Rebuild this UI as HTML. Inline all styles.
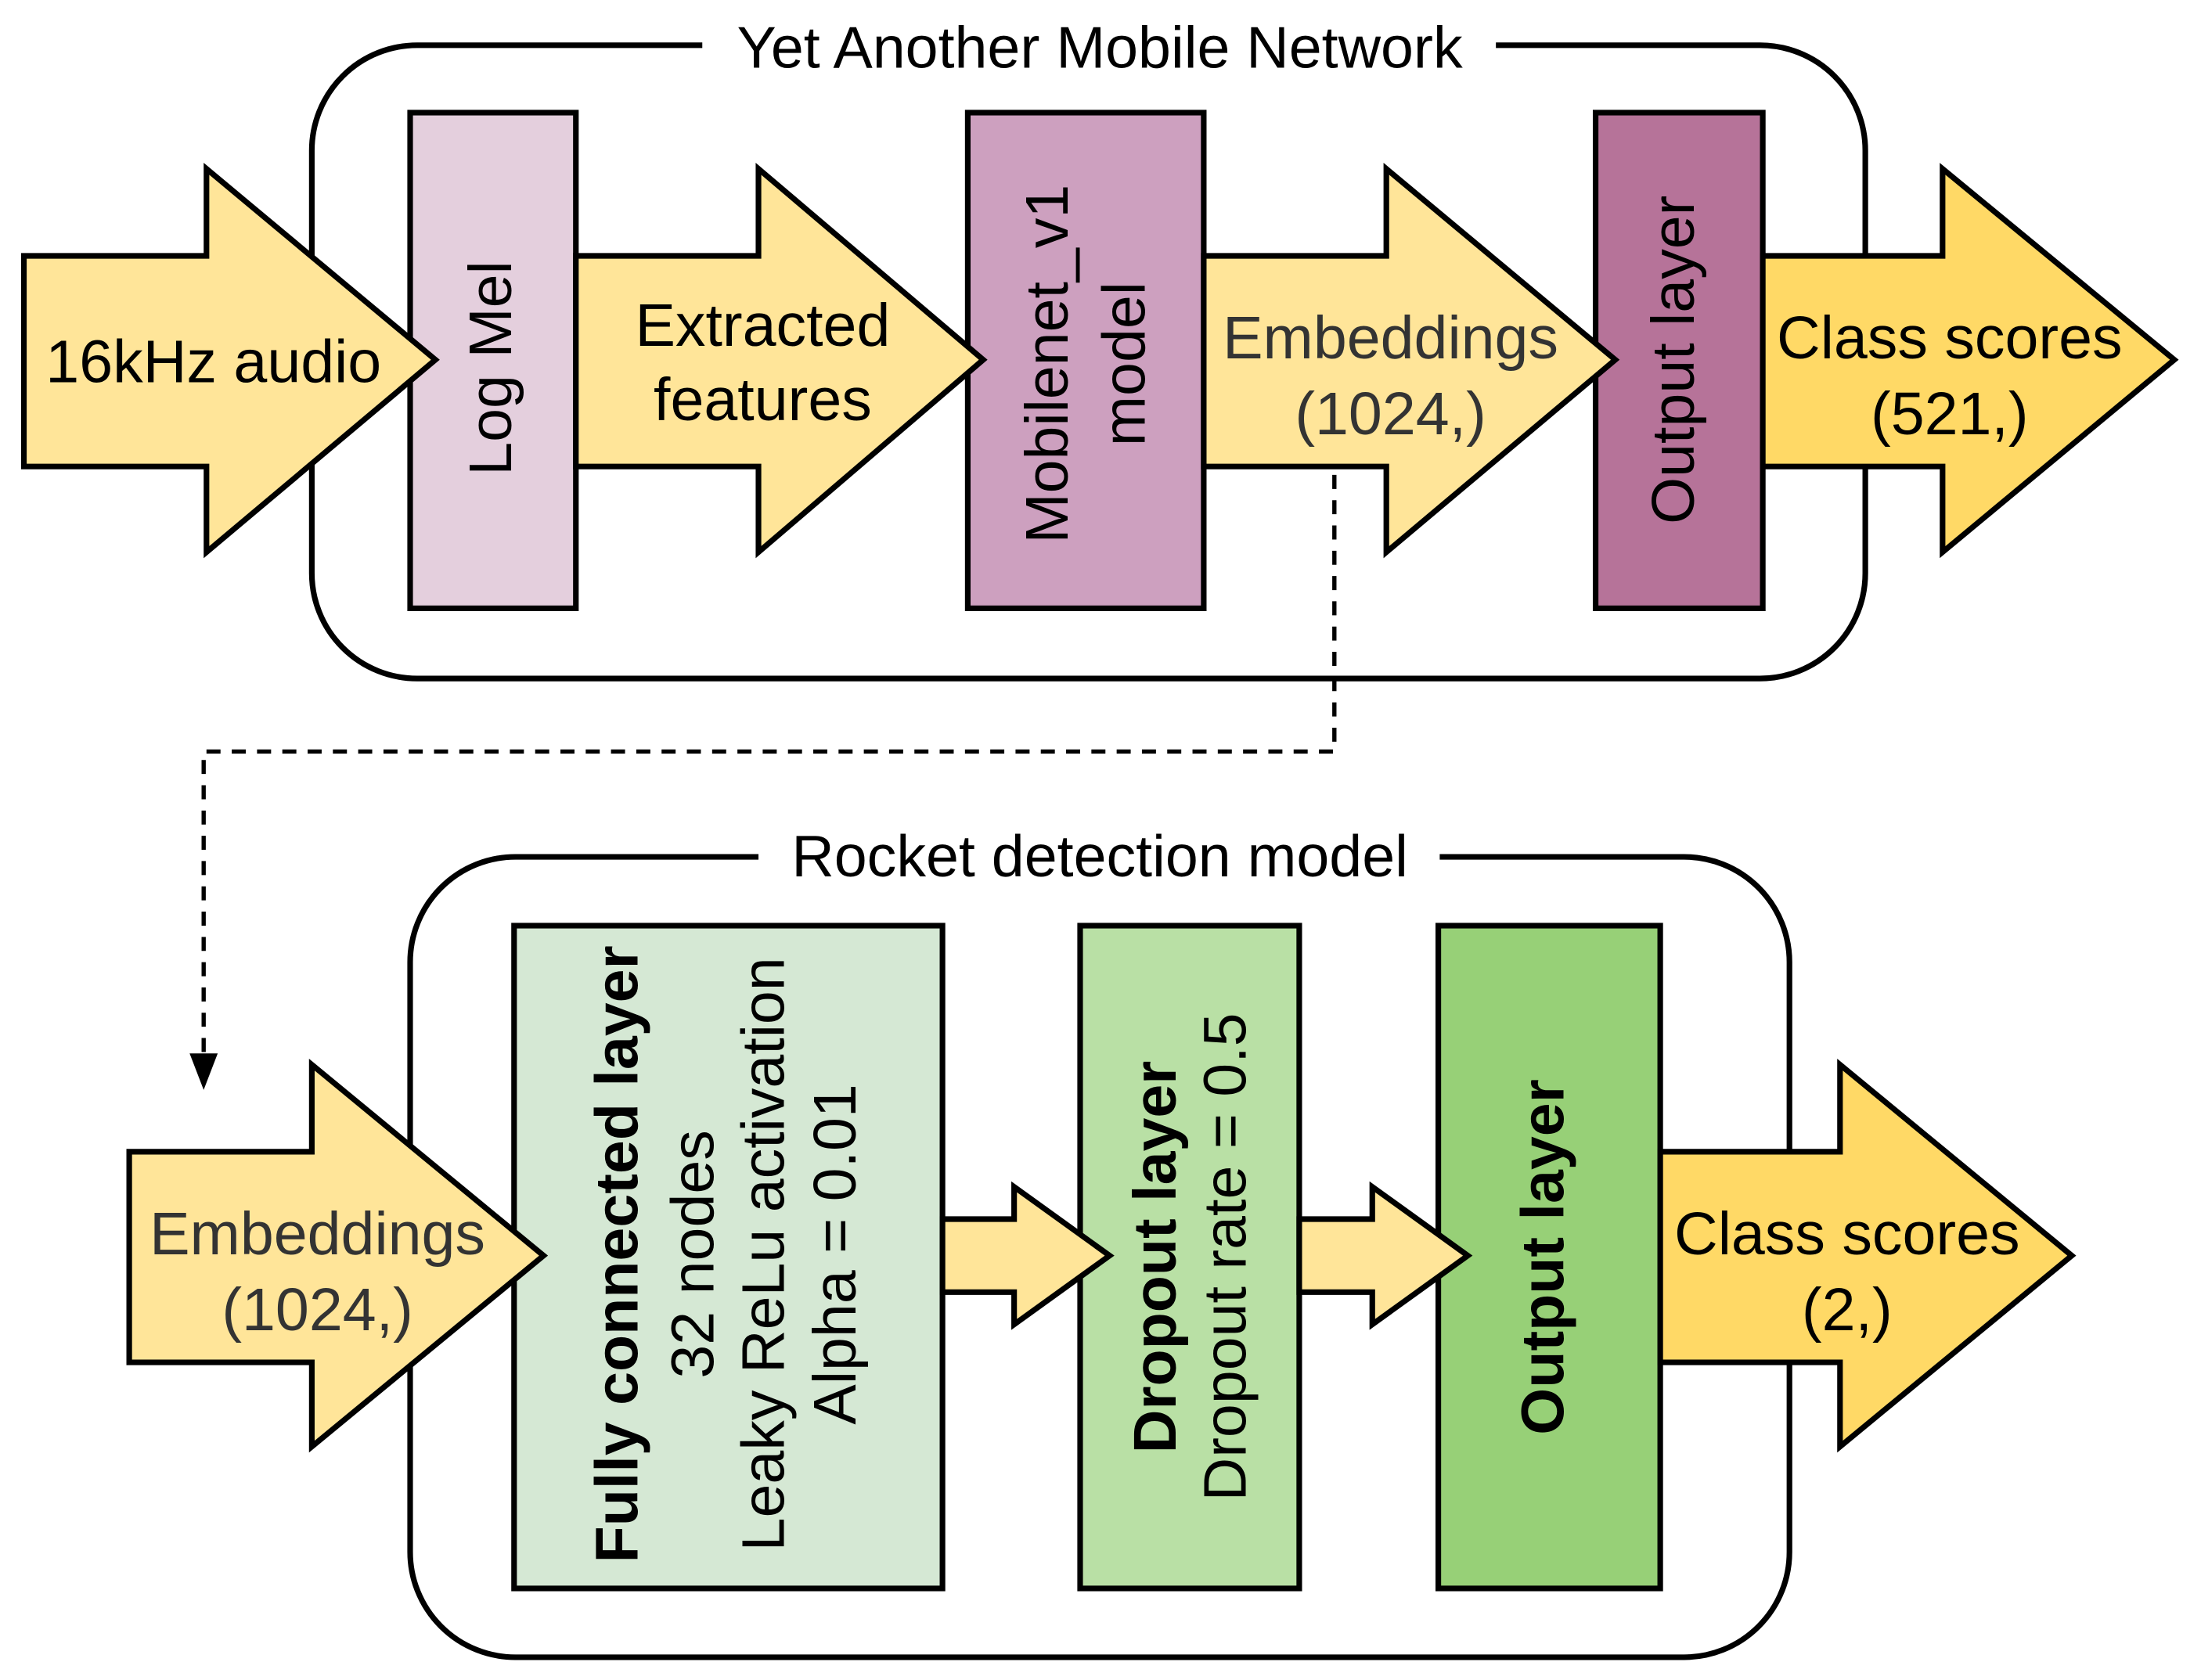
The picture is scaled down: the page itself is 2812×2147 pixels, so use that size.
<!DOCTYPE html>
<html><head><meta charset="utf-8"><style>html,body{margin:0;padding:0;background:#fff}svg{display:block}</style></head>
<body>
<svg width="2812" height="2147" viewBox="0 0 1567 1196" xmlns="http://www.w3.org/2000/svg" font-family="Liberation Sans, Arial, sans-serif" font-size="43">
<rect x="0" y="0" width="1567" height="1196" fill="#fff"/>
<!-- top container -->
<rect x="222" y="32" width="1106" height="451" rx="75" fill="none" stroke="#000" stroke-width="4"/>
<rect x="500" y="10" width="565" height="45" fill="#fff"/>
<text x="783" y="48" text-anchor="middle" font-size="42">Yet Another Mobile Network</text>
<!-- boxes top -->
<rect x="292" y="80" width="118" height="353" fill="#e4cfdd" stroke="#000" stroke-width="4"/>
<rect x="689" y="80" width="168" height="353" fill="#cda0bf" stroke="#000" stroke-width="4"/>
<rect x="1136" y="80" width="119" height="353" fill="#b67399" stroke="#000" stroke-width="4"/>
<!-- arrows top -->
<g stroke="#000" stroke-width="4" stroke-linejoin="miter">
<polygon points="17,182 147,182 147,120 310,256 147,393 147,332 17,332" fill="#ffe599"/>
<polygon points="410,182 540,182 540,120 700,256 540,393 540,332 410,332" fill="#ffe599"/>
<polygon points="857,182 987,182 987,120 1150,256 987,393 987,332 857,332" fill="#ffe599"/>
<polygon points="1255,182 1383,182 1383,120 1548,256 1383,393 1383,332 1255,332" fill="#ffd966"/>
</g>
<text x="152" y="272" text-anchor="middle">16kHz audio</text>
<text x="543" y="246" text-anchor="middle">Extracted</text>
<text x="543" y="299" text-anchor="middle">features</text>
<text x="990" y="255" text-anchor="middle" fill="#333">Embeddings</text>
<text x="990" y="309" text-anchor="middle" fill="#333">(1024,)</text>
<text x="1388" y="255" text-anchor="middle">Class scores</text>
<text x="1388" y="309" text-anchor="middle">(521,)</text>
<g text-anchor="middle">
<text transform="translate(351,262) rotate(-90)" y="13">Log Mel</text>
<text transform="translate(773,259) rotate(-90)" y="-13">Mobilenet_v1</text>
<text transform="translate(773,259) rotate(-90)" y="42">model</text>
<text transform="translate(1195,256) rotate(-90)" y="11">Output layer</text>
</g>
<!-- dashed connector -->
<polyline points="950,338 950,535 145,535 145,760" fill="none" stroke="#000" stroke-width="3" stroke-dasharray="10,8"/>
<polygon points="135,750 155,750 145,776" fill="#000"/>
<!-- bottom container -->
<rect x="292" y="610" width="982" height="570" rx="75" fill="none" stroke="#000" stroke-width="4"/>
<rect x="540" y="588" width="485" height="45" fill="#fff"/>
<text x="783" y="624" text-anchor="middle" font-size="42">Rocket detection model</text>
<rect x="366" y="659" width="305" height="472" fill="#d5e8d4" stroke="#000" stroke-width="4"/>
<rect x="769" y="659" width="156" height="472" fill="#b9e0a5" stroke="#000" stroke-width="4"/>
<rect x="1024" y="659" width="158" height="472" fill="#97d077" stroke="#000" stroke-width="4"/>
<g stroke="#000" stroke-width="4">
<polygon points="92,820 222,820 222,758 387,894 222,1030 222,970 92,970" fill="#ffe599"/>
<polygon points="671,868 722,868 722,845 790,894 722,943 722,920 671,920" fill="#ffe599"/>
<polygon points="925,868 977,868 977,845 1045,894 977,943 977,920 925,920" fill="#ffe599"/>
<polygon points="1182,820 1310,820 1310,758 1475,894 1310,1030 1310,970 1182,970" fill="#ffd966"/>
</g>
<text x="226" y="893" text-anchor="middle" fill="#333">Embeddings</text>
<text x="226" y="947" text-anchor="middle" fill="#333">(1024,)</text>
<text x="1315" y="893" text-anchor="middle">Class scores</text>
<text x="1315" y="947" text-anchor="middle">(2,)</text>
<g text-anchor="middle">
<text transform="translate(518,893) rotate(-90)" y="-64" font-weight="bold">Fully connected layer</text>
<text transform="translate(518,893) rotate(-90)" y="-10">32 nodes</text>
<text transform="translate(518,893) rotate(-90)" y="40">Leaky ReLu activation</text>
<text transform="translate(518,893) rotate(-90)" y="91">Alpha = 0.01</text>
<text transform="translate(847,895) rotate(-90)" y="-10" font-weight="bold">Dropout layer</text>
<text transform="translate(847,895) rotate(-90)" y="40">Dropout rate = 0.5</text>
<text transform="translate(1103,895) rotate(-90)" y="10" font-weight="bold">Output layer</text>
</g>
</svg>
</body></html>
